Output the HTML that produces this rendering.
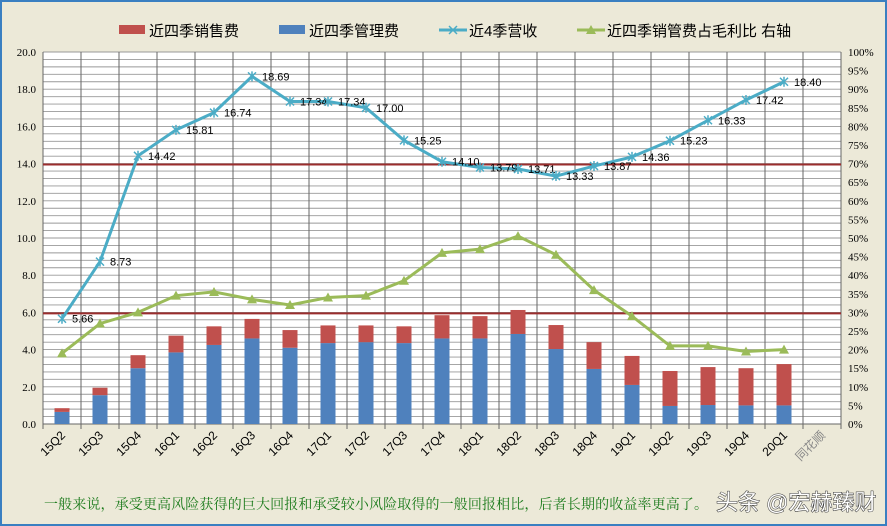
<!DOCTYPE html>
<html><head><meta charset="utf-8"><style>
body{margin:0;width:887px;height:526px;overflow:hidden;background:#ece9d8;font-family:"Liberation Sans","Noto Sans CJK SC",sans-serif}
#frame{position:absolute;left:0;top:0;width:883px;height:522px;border:2px solid #3a7fc1;background:#ece9d8}
</style></head><body>
<div id="frame"></div>
<svg id="c" width="887" height="526" style="position:absolute;left:0;top:0"></svg>
<script>
const categories=["15Q2","15Q3","15Q4","16Q1","16Q2","16Q3","16Q4","17Q1","17Q2","17Q3","17Q4","18Q1","18Q2","18Q3","18Q4","19Q1","19Q2","19Q3","19Q4","20Q1","同花顺"];
const mgmt=[0.65,1.55,3.0,3.85,4.25,4.6,4.1,4.35,4.4,4.35,4.6,4.6,4.84,4.03,2.96,2.1,0.97,1.02,1.0,1.0];
const sales=[0.2,0.4,0.7,0.9,1.0,1.05,0.95,0.95,0.9,0.9,1.25,1.2,1.29,1.29,1.44,1.56,1.88,2.04,2.0,2.22];
const revenue=[5.66,8.73,14.42,15.81,16.74,18.69,17.34,17.34,17.00,15.25,14.10,13.79,13.71,13.33,13.87,14.36,15.23,16.33,17.42,18.40];
const ratio=[19,27,30,34.5,35.5,33.5,32,34,34.5,38.5,46,47,50.5,45.5,36,29,21,21,19.5,20];
const leftTicks=[0,2,4,6,8,10,12,14,16,18,20];
const rightTicks=[0,5,10,15,20,25,30,35,40,45,50,55,60,65,70,75,80,85,90,95,100];
const refLines=[13.95,5.95];
const NS="http://www.w3.org/2000/svg";
const svg=document.getElementById('c');
const X0=43,X1=841,Y0=424,Y1=52;
const cw=(X1-X0)/categories.length;
const xc=i=>X0+cw*(i+0.5);
const y=v=>Y0-(v/20)*(Y0-Y1);
const yr=p=>Y0-(p/100)*(Y0-Y1);
function el(t,a,txt){const e=document.createElementNS(NS,t);for(const k in a)e.setAttribute(k,a[k]);if(txt!=null)e.textContent=txt;svg.appendChild(e);return e;}
let e=el('rect',{x:X0,y:Y1,width:X1-X0,height:Y0-Y1,fill:'#fff'});


for(let v=0;v<=20.001;v+=0.4){el('line',{x1:X0,x2:X1,y1:y(v),y2:y(v),stroke:'#999','stroke-width':0.9});}
for(let i=0;i<=categories.length;i++){el('line',{x1:X0+cw*i,x2:X0+cw*i,y1:Y1,y2:Y0+5,stroke:'#666','stroke-width':1});}
el('line',{x1:X0,x2:X1,y1:Y0,y2:Y0,stroke:'#666'});
refLines.forEach(v=>{e=el('line',{x1:X0,x2:X1,y1:y(v),y2:y(v),stroke:'#9b2d2d','stroke-width':2});

});
leftTicks.forEach(v=>{e=el('text',{x:36,y:y(v)+4,'text-anchor':'end','font-size':11,'font-family':'Liberation Serif, serif',fill:'#000'},v.toFixed(1));

});
rightTicks.forEach(p=>{e=el('text',{x:848,y:yr(p)+4,'font-size':11,'font-family':'Liberation Serif, serif',fill:'#000'},p+'%');

});
categories.forEach((c,i)=>{const tx=xc(i)+4,ty=Y0+12;e=el('text',{x:tx,y:ty,'text-anchor':'end','font-size':12,fill:i==20?'#888':'#000',transform:`rotate(-45 ${tx} ${ty})`},c);

});
const bw=15;
mgmt.forEach((m,i)=>{e=el('rect',{x:xc(i)-bw/2,y:y(m),width:bw,height:Y0-y(m),fill:'#4f81bd'});


e=el('rect',{x:xc(i)-bw/2,y:y(m+sales[i]),width:bw,height:y(m)-y(m+sales[i]),fill:'#c0504d'});

});
e=el('polyline',{points:ratio.map((p,i)=>xc(i)+','+yr(p)).join(' '),fill:'none',stroke:'#9bbb59','stroke-width':3});


ratio.forEach((p,i)=>{const cx=xc(i),cy=yr(p);e=el('polygon',{points:`${cx},${cy-5} ${cx-5},${cy+4} ${cx+5},${cy+4}`,fill:'#9bbb59'});

});
e=el('polyline',{points:revenue.map((v,i)=>xc(i)+','+y(v)).join(' '),fill:'none',stroke:'#4bacc6','stroke-width':3});


revenue.forEach((v,i)=>{const cx=xc(i),cy=y(v);
el('path',{d:`M${cx-4},${cy-4}L${cx+4},${cy+4}M${cx-4},${cy+4}L${cx+4},${cy-4}M${cx},${cy-5}L${cx},${cy+5}`,stroke:'#4bacc6','stroke-width':1.5});
e=el('text',{x:cx+10,y:cy+4,'font-size':11,fill:'#000'},v.toFixed(2));

});
const lg=[[119,'rect','#c0504d','近四季销售费'],[279,'rect','#4f81bd','近四季管理费'],[439,'line','#4bacc6','近4季营收'],[577,'tri','#9bbb59','近四季销管费占毛利比 右轴']];
lg.forEach(([lx,t,col,txt])=>{
if(t=='rect')el('rect',{x:lx,y:25,width:26,height:9,fill:col});
else{el('line',{x1:lx,x2:lx+28,y1:30,y2:30,stroke:col,'stroke-width':3});
if(t=='tri')el('polygon',{points:`${lx+14},25 ${lx+9},34 ${lx+19},34`,fill:col});
else el('path',{d:`M${lx+10},26L${lx+18},34M${lx+10},34L${lx+18},26`,stroke:col,'stroke-width':1.5});}
e=el('text',{x:lx+30,y:36,'font-size':15,fill:'#000'},txt);

});
e=el('text',{x:44,y:509,'font-size':14,fill:'#1a7a1a','font-family':'Noto Serif CJK SC, serif',textLength:664},'一般来说，承受更高风险获得的巨大回报和承受较小风险取得的一般回报相比，后者长期的收益率更高了。');


e=el('text',{x:270+ 0,y:0,'font-size':1,fill:'none'},'');


e=el('text',{x:716,y:510,'font-size':22,fill:'#fff',stroke:'#333','stroke-width':1,'paint-order':'stroke'},'头条 @宏赫臻财');


</script>
</body></html>
